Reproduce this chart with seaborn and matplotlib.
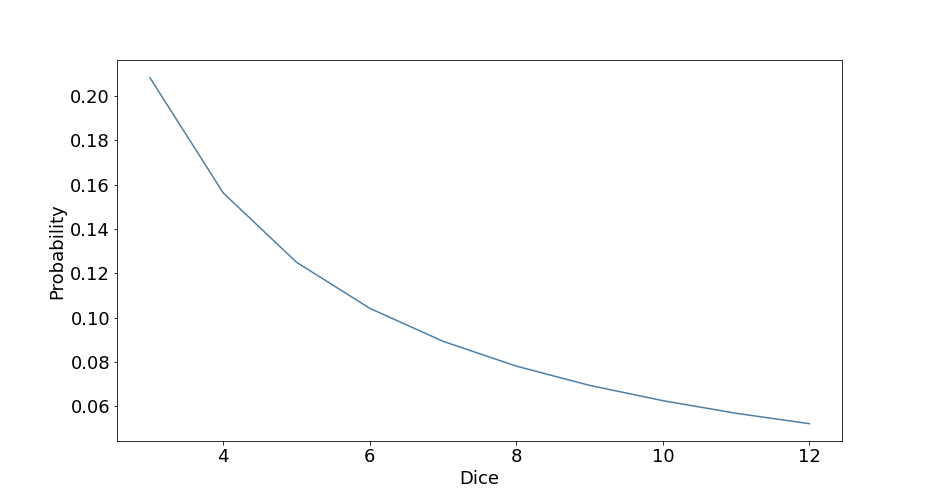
import matplotlib
matplotlib.use("Agg")
import matplotlib.pyplot as plt
import seaborn as sns

dice = [3, 4, 5, 6, 7, 8, 9, 10, 11, 12]
probability = [0.2083, 0.1563, 0.125, 0.1042, 0.0893, 0.0781, 0.0694, 0.0625, 0.0568, 0.0521]

plt.rcParams["font.size"] = 18
fig, ax = plt.subplots(figsize=(13, 7), dpi=72)
sns.lineplot(x=dice, y=probability, ax=ax, color="#4c7fa8", linewidth=1.5)
ax.set_xlabel("Dice")
ax.set_ylabel("Probability")
plt.subplots_adjust(left=0.125, right=0.9, top=0.88, bottom=0.125)
plt.savefig("out.png", dpi=72)
